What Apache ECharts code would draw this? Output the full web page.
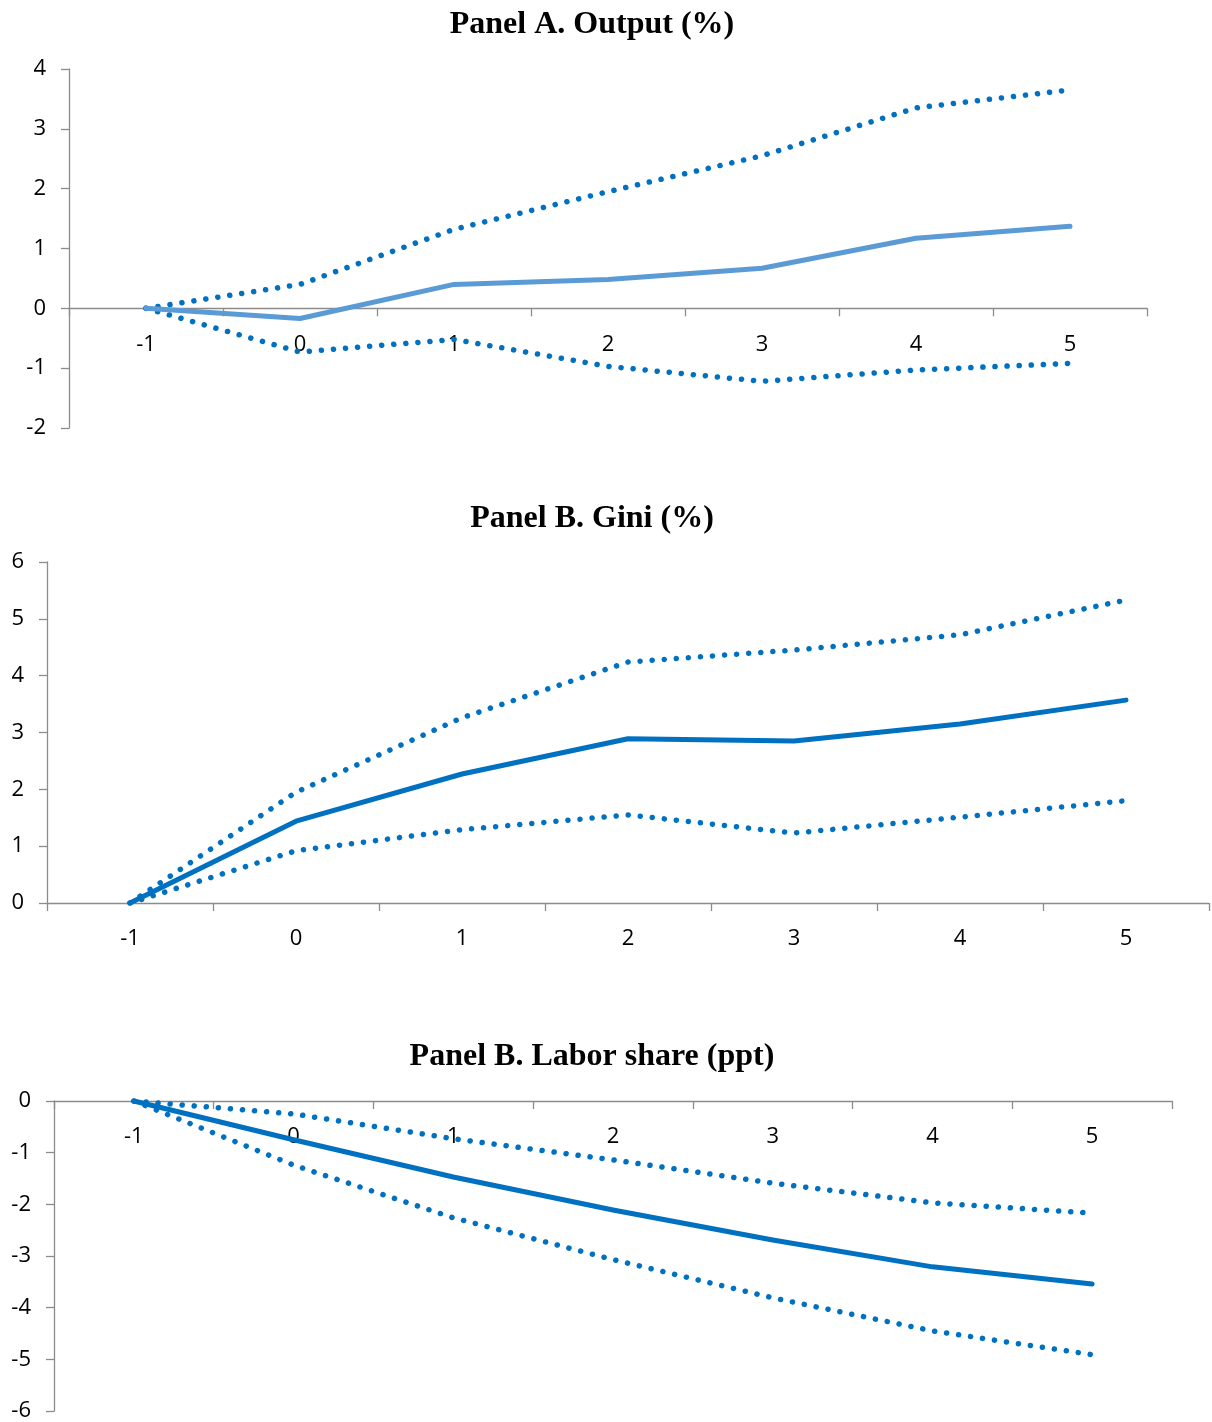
<!DOCTYPE html>
<html>
<head>
<meta charset="utf-8">
<script src="https://cdn.jsdelivr.net/npm/echarts@6/dist/echarts.min.js"></script>
<style>
  html, body { margin: 0; padding: 0; background: #fff; }
  #main { width: 1212px; height: 1422px; }
</style>
</head>
<body>
<div id="main"></div>
<script>
// horizon (years)
var years = ['-1', '0', '1', '2', '3', '4', '5'];

// Panel A. Output (%)
var outputMain = [0, -0.17, 0.4, 0.48, 0.67, 1.17, 1.37];
var outputUpper = [0, 0.4, 1.32, 1.95, 2.55, 3.35, 3.65];
var outputLower = [0, -0.73, -0.52, -0.97, -1.22, -1.03, -0.92];

// Panel B. Gini (%)
var giniMain = [0, 1.44, 2.27, 2.89, 2.85, 3.15, 3.57];
var giniUpper = [0, 1.95, 3.26, 4.24, 4.45, 4.72, 5.33];
var giniLower = [0, 0.92, 1.29, 1.55, 1.23, 1.51, 1.8];

// Panel B. Labor share (ppt)
var laborMain = [0, -0.75, -1.47, -2.11, -2.69, -3.21, -3.54];
var laborUpper = [0, -0.25, -0.73, -1.14, -1.59, -1.97, -2.17];
var laborLower = [0, -1.24, -2.26, -3.07, -3.81, -4.45, -4.91];

var axisGray = '#8c8c8c';
var darkBlue = '#0070C0';
var lightBlue = '#5B9BD5';
var labelFont = { color: '#000', fontSize: 22, fontFamily: 'Open Sans' };

// x axis sits on the zero line: offset it up from the grid bottom
function xAx(idx, offset) {
	return {
		type : 'category',
		gridIndex : idx,
		data : years,
		position : 'bottom',
		offset : offset,
		boundaryGap : true,
		axisLine : { onZero : false, lineStyle : { color : axisGray, width : 1.3 } },
		axisTick : { show : true, length : 8, lineStyle : { color : axisGray, width : 1.3 } },
		axisLabel : Object.assign({ margin : 25 }, labelFont),
		splitLine : { show : false }
	};
}
function yAx(idx, min, max) {
	return {
		type : 'value',
		gridIndex : idx,
		min : min,
		max : max,
		interval : 1,
		axisLine : { show : true, onZero : false, lineStyle : { color : axisGray, width : 1.3 } },
		axisTick : { show : true, length : 8, lineStyle : { color : axisGray, width : 1.3 } },
		axisLabel : Object.assign({ margin : 23 }, labelFont),
		splitLine : { show : false }
	};
}
function solid(idx, data, color) {
	return {
		type : 'line', xAxisIndex : idx, yAxisIndex : idx, data : data,
		symbol : 'none', silent : true, z : 3,
		lineStyle : { color : color, width : 5, cap : 'round', join : 'round' }
	};
}
function dotted(idx, data) {
	return {
		type : 'line', xAxisIndex : idx, yAxisIndex : idx, data : data,
		symbol : 'none', silent : true, z : 2,
		lineStyle : { color : darkBlue, width : 5.5, type : [0.1, 12], cap : 'round' }
	};
}
function ttl(text, top) {
	return {
		text : text, left : 587, top : top, textAlign : 'center',
		textStyle : { fontFamily : 'Liberation Serif', fontWeight : 'bold', fontSize : 32, color : '#000' }
	};
}

var chart = echarts.init(document.getElementById('main'));
chart.setOption({
	animation : false,
	backgroundColor : '#fff',
	title : [
		ttl('Panel A. Output (%)', 4),
		ttl('Panel B. Gini (%)', 498),
		ttl('Panel B. Labor share (ppt)', 1036)
	],
	grid : [
		{ left : 69, right : 65, top : 69, height : 359 },
		{ left : 47, right : 3, top : 562, height : 341 },
		{ left : 54, right : 40, top : 1101, height : 310 }
	],
	xAxis : [ xAx(0, -359 * 2 / 6), xAx(1, 0), xAx(2, -310) ],
	yAxis : [ yAx(0, -2, 4), yAx(1, 0, 6), yAx(2, -6, 0) ],
	series : [
		dotted(0, outputUpper), dotted(0, outputLower), solid(0, outputMain, lightBlue),
		dotted(1, giniUpper), dotted(1, giniLower), solid(1, giniMain, darkBlue),
		dotted(2, laborUpper), dotted(2, laborLower), solid(2, laborMain, darkBlue)
	]
});
</script>
</body>
</html>
